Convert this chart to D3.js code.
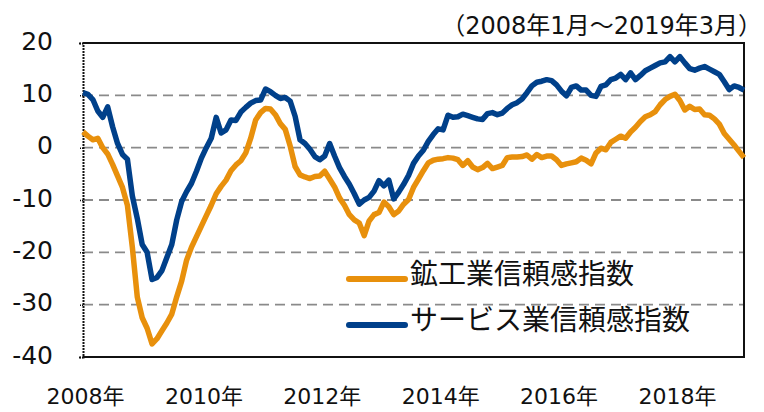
<!DOCTYPE html>
<html>
<head>
<meta charset="utf-8">
<script src="https://cdn.jsdelivr.net/npm/d3@7"></script>
<style>
  html, body { margin: 0; padding: 0; background: #fff; }
  svg { display: block; }
  text { font-family: "DejaVu Sans", "Noto Sans CJK JP", sans-serif; fill: #111; }
</style>
</head>
<body>
<div id="chart"></div>
<script>
// monthly values, 2008-01 .. 2019-03
var miningIndex = [
    3.0, 2.2, 1.5, 1.8, 0.0, -1.2, -3.2, -5.4, -7.6, -11.0, -19.0, -28.5,
    -32.5, -34.5, -37.5, -36.5, -35.0, -33.5, -31.8, -28.5, -25.5, -21.5, -19.0, -17.0,
    -15.0, -13.0, -11.0, -8.8, -7.4, -6.2, -4.4, -3.3, -2.5, -1.0, 1.8, 5.3,
    6.7, 7.5, 7.4, 6.3, 4.6, 3.5, 0.3, -3.6, -5.2, -5.6, -5.9, -5.5,
    -5.4, -4.5, -6.0, -7.5, -9.6, -11.0, -12.8, -13.8, -14.4, -16.8, -14.0, -12.8,
    -12.4, -10.4, -11.3, -12.8, -12.1, -10.8, -9.9, -7.6, -6.0, -4.4, -2.9, -2.4,
    -2.2, -2.1, -1.9, -2.0, -2.3, -3.4, -2.5, -3.7, -4.2, -3.8, -3.0, -4.0,
    -3.7, -3.4, -1.9, -1.8, -1.8, -1.7, -1.4, -2.2, -1.3, -1.9, -1.6, -1.6,
    -2.3, -3.4, -3.1, -2.9, -2.7, -2.0, -2.4, -3.1, -1.0, -0.1, -0.4, 1.0,
    1.6, 2.2, 1.8, 3.0, 3.9, 5.0, 5.9, 6.3, 6.9, 8.2, 9.2, 9.8,
    10.2, 9.0, 7.2, 7.9, 7.3, 7.4, 6.3, 6.2, 5.5, 4.5, 2.7, 1.6,
    0.5, -0.7, -1.9
];
var serviceIndex = [
    10.5, 10.2, 9.2, 7.0, 5.8, 7.8, 4.0, 0.8, -1.3, -2.2, -9.2, -13.5,
    -18.5, -20.0, -25.2, -24.8, -23.5, -21.0, -18.5, -13.8, -10.3, -8.4, -6.8, -4.5,
    -2.0, 0.0, 1.8, 5.8, 2.8, 3.4, 5.3, 5.2, 6.8, 7.7, 8.5, 9.0,
    9.1, 11.2, 10.7, 10.0, 9.4, 9.6, 8.9, 6.0, 1.5, 0.8, -0.3, -1.7,
    -2.3, -1.6, 0.8, -1.6, -3.8, -5.5, -7.0, -8.8, -10.8, -10.0, -9.5, -8.3,
    -6.3, -7.3, -6.2, -9.8, -8.5, -7.0, -5.3, -3.0, -1.6, -0.5, 1.2, 2.5,
    3.6, 3.4, 6.2, 5.8, 5.9, 6.4, 6.1, 5.8, 5.5, 5.4, 6.5, 6.7,
    6.3, 6.6, 7.5, 8.2, 8.6, 9.3, 10.5, 11.8, 12.5, 12.7, 13.0, 12.8,
    12.0, 10.8, 9.9, 11.5, 11.8, 11.0, 11.0, 10.0, 9.8, 11.7, 12.0, 13.0,
    13.3, 14.0, 13.0, 14.3, 13.0, 13.8, 14.7, 15.2, 15.7, 16.2, 16.4, 17.4,
    16.4, 17.4, 16.2, 15.1, 14.8, 15.2, 15.5, 15.0, 14.5, 14.0, 12.6, 11.1,
    11.8, 11.5, 11.0
];
var seriesNames = ["鉱工業信頼感指数", "サービス業信頼感指数"];
var seriesColors = ["#e8900c", "#00408a"];
var yTicks = [-40, -30, -20, -10, 0, 10, 20];
var yGrid = [-30, -20, -10, 0, 10];
var xTickMonths = [0, 24, 48, 72, 96, 120];
var xTickLabels = ["2008年", "2010年", "2012年", "2014年", "2016年", "2018年"];
var periodNote = "（2008年1月～2019年3月）";

var W = 764, H = 412;
var plot = { left: 83, right: 744, top: 43, bottom: 357 };

var svg = d3.select("#chart").append("svg")
    .attr("width", W)
    .attr("height", H);

var x = d3.scaleLinear().domain([0, miningIndex.length - 1]).range([plot.left, plot.right]);
var y = d3.scaleLinear().domain([-40, 20]).range([plot.bottom, plot.top]);

// dashed grid lines
svg.append("g")
    .selectAll("line")
    .data(yGrid).enter()
    .append("line")
    .attr("x1", plot.left)
    .attr("x2", plot.right)
    .attr("y1", d => y(d))
    .attr("y2", d => y(d))
    .attr("stroke", "#8a8a8a")
    .attr("stroke-width", 1.8)
    .attr("stroke-dasharray", "10,6");

// frame: top, right, bottom
svg.append("path")
    .attr("d", `M${plot.left},${plot.top}H${plot.right}V${plot.bottom}H${plot.left}`)
    .attr("fill", "none")
    .attr("stroke", "#111")
    .attr("stroke-width", 2);

// y axis (plain hyphen for negatives, like the original)
var yAxis = svg.append("g")
    .attr("transform", `translate(${plot.left},0)`)
    .call(d3.axisLeft(y).tickValues(yTicks).tickSize(4).tickPadding(26).tickFormat(d => String(d)));
yAxis.select(".domain").attr("stroke", "#111").attr("stroke-width", 2).attr("stroke-dasharray", "2,1");
yAxis.selectAll(".tick line").attr("stroke", "#111").attr("stroke-width", 1.5).attr("stroke-dasharray", "1,1");
yAxis.selectAll("text")
    .style("font-size", "25px")
    .attr("dy", "0.24em")
    .attr("fill", "#111");

// x axis
var xAxis = svg.append("g")
    .attr("transform", `translate(0,${plot.bottom})`)
    .call(d3.axisBottom(x).tickValues(xTickMonths).tickSize(0).tickFormat((d, i) => xTickLabels[i]));
xAxis.select(".domain").remove();
xAxis.selectAll("text")
    .style("font-size", "22px")
    .attr("y", 47)
    .attr("dy", 0)
    .attr("dx", 2)
    .attr("fill", "#111");

// lines
var line = d3.line()
    .x((d, i) => x(i))
    .y(d => y(d));

[miningIndex, serviceIndex].forEach((series, k) => {
    svg.append("path")
        .datum(series)
        .attr("fill", "none")
        .attr("stroke", seriesColors[k])
        .attr("stroke-width", 5.5)
        .attr("stroke-linejoin", "round")
        .attr("d", line);
});

// legend
var legend = svg.append("g").attr("transform", "translate(347,0)");
[279, 325].forEach((ly, k) => {
    legend.append("line")
        .attr("x1", 2).attr("x2", 58)
        .attr("y1", ly).attr("y2", ly)
        .attr("stroke", seriesColors[k])
        .attr("stroke-width", 6)
        .attr("stroke-linecap", "round");
    legend.append("text")
        .attr("x", 63)
        .attr("y", ly - 5)
        .attr("dy", "0.36em")
        .style("font-size", "28px")
        .text(seriesNames[k]);
});

// period note
svg.append("text")
    .attr("x", 762)
    .attr("y", 34)
    .attr("text-anchor", "end")
    .style("font-size", "24px")
    .text(periodNote);
</script>
</body>
</html>
